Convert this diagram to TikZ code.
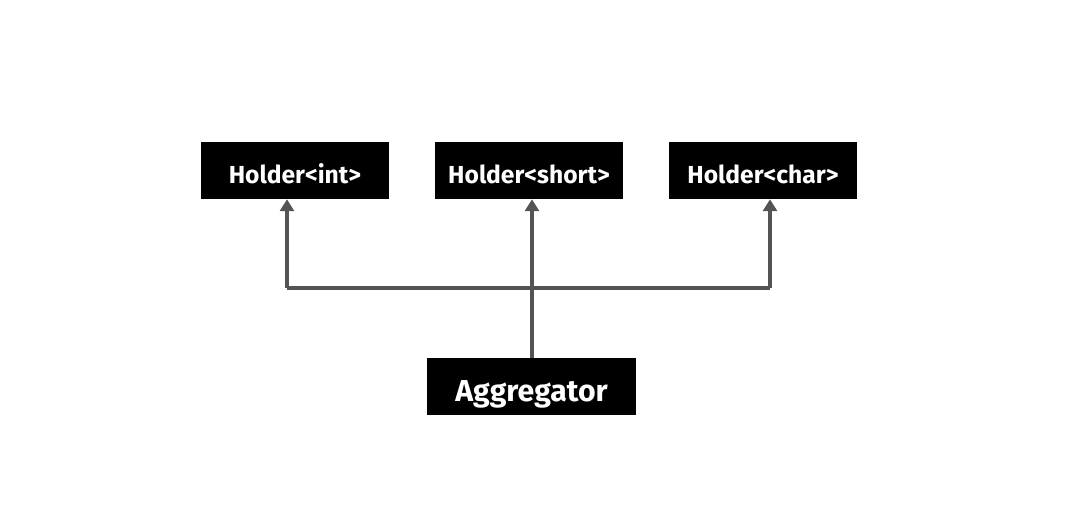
\documentclass[tikz,border=0pt]{standalone}
\usepackage{fontspec}
\setmainfont{Fira Sans}
\usetikzlibrary{arrows.meta}

\begin{document}
\begin{tikzpicture}[x=0.025cm,y=-0.025cm,>={Triangle[width=10pt,length=8.5pt]},
  every node/.append style={font=\bfseries},
  holder/.style={fill=black,text=white,minimum width=4.7cm,minimum height=1.425cm,inner sep=0pt,
    text height=19pt,text depth=0pt,font=\bfseries\fontsize{17.5}{20}\selectfont},
  link/.style={draw=black!67,line width=2.4pt}]
  \useasboundingbox (0,0) rectangle (1076,508);
  \node[holder] (hint) at (295,170.5) {Holder<int>};
  \node[holder] (hshort) at (529,170.5) {Holder<short>};
  \node[holder] (hchar) at (763,170.5) {Holder<char>};
  \node[holder,minimum width=5.225cm,text height=21pt,font=\bfseries\fontsize{21.5}{24}\selectfont] (agg) at (531.5,386.5) {Aggregator};

  \coordinate (jl) at (287,288);
  \coordinate (jm) at (532,288);
  \coordinate (jr) at (770,288);
  \draw[link] (jl) -- (jr);
  \draw[link,->] (jm |- agg.north) -- (jm |- hshort.south);
  \draw[link,->] (jl) -- (jl |- hint.south);
  \draw[link,->] (jr) -- (jr |- hchar.south);
\end{tikzpicture}
\end{document}
